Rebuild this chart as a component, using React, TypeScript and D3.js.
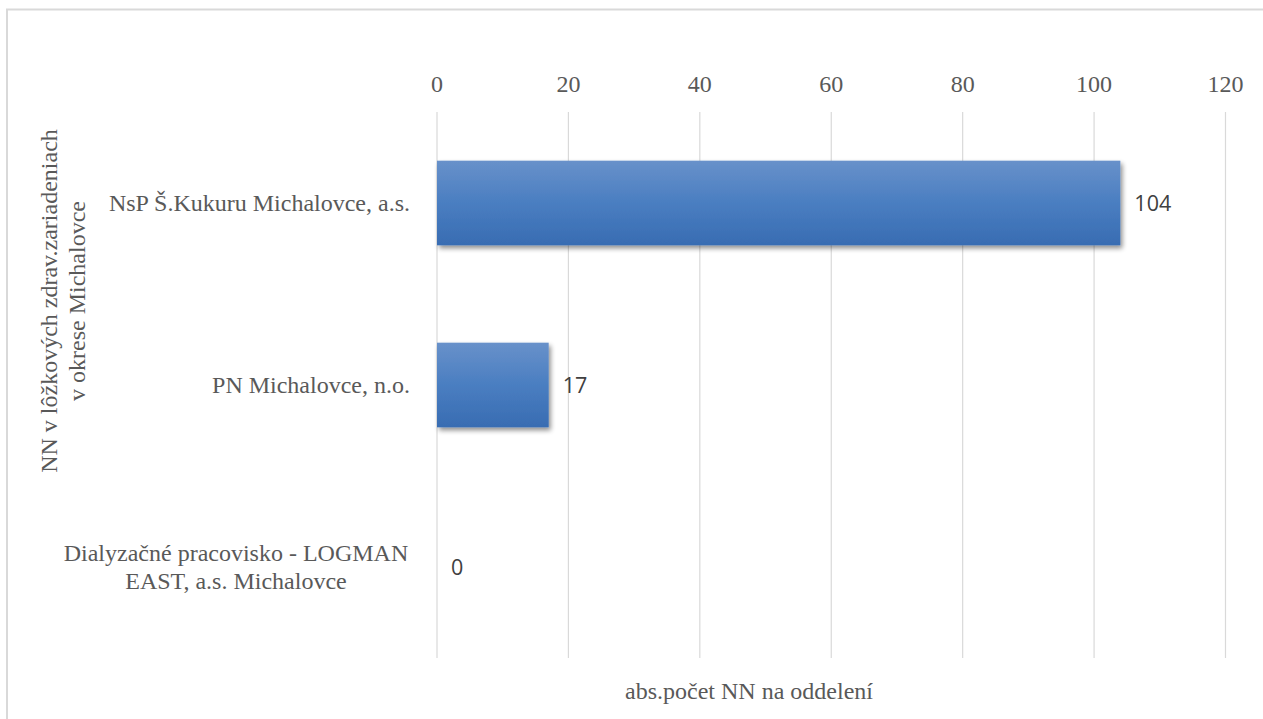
import React from "react";
import * as d3 from "d3";

const categories = [
  "NsP Š.Kukuru Michalovce, a.s.",
  "PN Michalovce, n.o.",
  "Dialyzačné pracovisko - LOGMAN EAST, a.s. Michalovce",
];
const categoryLines = [
  ["NsP Š.Kukuru Michalovce, a.s."],
  ["PN Michalovce, n.o."],
  ["Dialyzačné pracovisko - LOGMAN", "EAST, a.s. Michalovce"],
];
const values = [104, 17, 0];
const xTicks = [0, 20, 40, 60, 80, 100, 120];
const yTitleLines = ["NN v lôžkových zdrav.zariadeniach", "v okrese Michalovce"];
const xTitle = "abs.počet NN na oddelení";

const W = 1263;
const H = 719;
const plot = { left: 437, right: 1225.5, top: 112, bottom: 658 };
const serif = "Liberation Serif, Tinos, Times New Roman, DejaVu Serif";
const sans = "Open Sans, Liberation Sans, sans-serif";
const textGray = "#595959";
const fs = 24;

const serifStyle: React.CSSProperties = { fontFamily: serif };

export default function App() {
  const x = d3.scaleLinear().domain([0, 120]).range([plot.left, plot.right]);
  const y = d3
    .scaleBand<string>()
    .domain(categories)
    .range([plot.top, plot.bottom])
    .paddingInner(0.535)
    .paddingOuter(0.2675);

  return (
    <svg
      width={W}
      height={H}
      style={{ position: "absolute", left: 0, top: 0, background: "#fff" }}
    >
      <defs>
        <linearGradient id="barGrad" x1="0" y1="0" x2="0" y2="1">
          <stop offset="0%" stopColor="#6891ca" />
          <stop offset="50%" stopColor="#4a7ec1" />
          <stop offset="100%" stopColor="#386cb2" />
        </linearGradient>
        <filter id="shadow" x="-5%" y="-20%" width="115%" height="150%">
          <feGaussianBlur in="SourceAlpha" stdDeviation="2.5" />
          <feOffset dx="2" dy="3" result="off" />
          <feComponentTransfer>
            <feFuncA type="linear" slope="0.45" />
          </feComponentTransfer>
          <feMerge>
            <feMergeNode />
            <feMergeNode in="SourceGraphic" />
          </feMerge>
        </filter>
      </defs>
      <rect x={0} y={0} width={W} height={H} fill="#fff" />
      <rect
        x={7}
        y={9.5}
        width={W + 20}
        height={H + 20}
        fill="none"
        stroke="#d9d9d9"
        strokeWidth={2}
      />
      {xTicks.map((t) => (
        <line
          key={t}
          x1={x(t)}
          x2={x(t)}
          y1={plot.top}
          y2={plot.bottom}
          stroke="#d9d9d9"
          strokeWidth={1.2}
        />
      ))}
      {xTicks.map((t) => (
        <text
          key={"t" + t}
          x={x(t)}
          y={92}
          textAnchor="middle"
          style={serifStyle}
          fontSize={fs}
          fill={textGray}
        >
          {t}
        </text>
      ))}
      {categories.map((c, i) => {
        const w = x(values[i]) - x(0);
        return w > 0 ? (
          <rect
            key={c}
            x={x(0)}
            y={y(c)}
            width={w}
            height={y.bandwidth()}
            fill="url(#barGrad)"
            filter="url(#shadow)"
          />
        ) : null;
      })}
      {categories.map((c, i) => (
        <text
          key={"v" + c}
          x={x(values[i]) + 14}
          y={(y(c) as number) + y.bandwidth() / 2}
          dy="0.36em"
          style={{ fontFamily: sans }}
          fontSize={21.5}
          fill="#404040"
        >
          {values[i]}
        </text>
      ))}
      {categories.map((c, i) => {
        const lines = categoryLines[i];
        const cy = (y(c) as number) + y.bandwidth() / 2;
        if (lines.length === 1) {
          return (
            <text
              key={"c" + c}
              x={410}
              y={cy}
              dy="0.35em"
              textAnchor="end"
              style={serifStyle}
              fontSize={fs}
              fill={textGray}
            >
              {lines[0]}
            </text>
          );
        }
        return (
          <text
            key={"c" + c}
            x={236}
            y={cy}
            textAnchor="middle"
            style={serifStyle}
            fontSize={fs}
            fill={textGray}
          >
            {lines.map((l, k) => (
              <tspan key={k} x={236} y={cy + (k - (lines.length - 1) / 2) * 28} dy="0.35em">
                {l}
              </tspan>
            ))}
          </text>
        );
      })}
      <text
        transform="translate(0,301) rotate(-90)"
        textAnchor="middle"
        style={serifStyle}
        fontSize={fs}
        fill={textGray}
      >
        {yTitleLines.map((l, k) => (
          <tspan key={k} x={0} y={57 + k * 28}>
            {l}
          </tspan>
        ))}
      </text>
      <text
        x={749}
        y={699}
        textAnchor="middle"
        style={serifStyle}
        fontSize={fs}
        fill={textGray}
      >
        {xTitle}
      </text>
    </svg>
  );
}
